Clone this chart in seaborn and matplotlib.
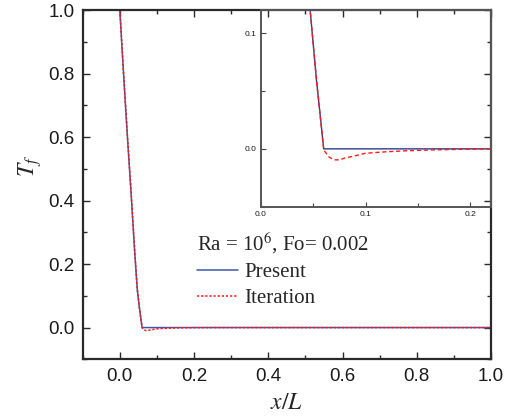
import numpy as np
import pandas as pd
import matplotlib
matplotlib.use("Agg")
import matplotlib.pyplot as plt
import seaborn as sns
from matplotlib.ticker import MultipleLocator

# ---- data ----
x_vals = [0.0, 0.01, 0.02, 0.03, 0.04, 0.047, 0.053, 0.06, 0.065, 0.07, 0.075,
          0.08, 0.09, 0.10, 0.12, 0.14, 0.16, 0.18, 0.20, 0.25, 0.30, 0.40,
          0.50, 0.60, 0.70, 0.80, 0.90, 1.00]
present = [1.0, 0.80, 0.61, 0.43, 0.24, 0.12, 0.06, 0.0, 0.0, 0.0, 0.0,
           0.0, 0.0, 0.0, 0.0, 0.0, 0.0, 0.0, 0.0, 0.0, 0.0, 0.0,
           0.0, 0.0, 0.0, 0.0, 0.0, 0.0]
iteration = [1.0, 0.80, 0.61, 0.43, 0.24, 0.12, 0.06, -0.001, -0.007, -0.0095, -0.0095,
             -0.008, -0.006, -0.0038, -0.0025, -0.0016, -0.001, -0.0006, -0.0003, 0.0, 0.0, 0.0,
             0.0, 0.0, 0.0, 0.0, 0.0, 0.0]
legend_title = "Ra = 10$^{6}$, Fo= 0.002"
series_names = ["Present", "Iteration"]

df = pd.DataFrame({"x": x_vals, "Present": present, "Iteration": iteration})

sns.set_style("ticks")
plt.rcParams["font.family"] = ["Liberation Sans", "DejaVu Sans"]
plt.rcParams["mathtext.fontset"] = "stix"

BLUE = "#3c58ad"
RED = "#ff1a1a"
SPINE = "#2a2a2a"

fig = plt.figure(figsize=(5.15, 4.18), dpi=100)
ax = fig.add_axes([0.1606, 0.1404, 0.7928, 0.8356])

sns.lineplot(data=df, x="x", y="Present", ax=ax, color=BLUE, lw=1.1,
             label=series_names[0])
sns.lineplot(data=df, x="x", y="Iteration", ax=ax, color=RED, lw=1.1,
             linestyle=(0, (1.5, 1.2)), label=series_names[1])

ax.set_xlim(-0.1, 1.0)
ax.set_ylim(-0.1, 1.0)
ax.xaxis.set_major_locator(MultipleLocator(0.2))
ax.xaxis.set_minor_locator(MultipleLocator(0.1))
ax.yaxis.set_major_locator(MultipleLocator(0.2))
ax.yaxis.set_minor_locator(MultipleLocator(0.1))
ax.tick_params(which="both", direction="in", top=True, right=True,
               color=SPINE, width=1.0)
ax.tick_params(which="major", length=5, labelsize=13.5, labelcolor="#1a1a1a", pad=6)
ax.tick_params(which="minor", length=3)
for s in ax.spines.values():
    s.set_linewidth(1.6)
    s.set_color(SPINE)

ax.set_xlabel("$x/L$", fontsize=17)
ax.set_ylabel("$T_f$", fontsize=17)
ax.xaxis.set_label_coords(0.5, -0.095)
ax.yaxis.set_label_coords(-0.095, 0.555)

leg = ax.legend(loc="upper left", bbox_to_anchor=(0.281, 0.367),
                frameon=False, title=legend_title, alignment="left",
                prop={"family": "Liberation Serif", "size": 15},
                title_fontproperties={"family": "Liberation Serif", "size": 15},
                handlelength=1.95, handletextpad=0.3, labelspacing=0.3,
                borderpad=0, borderaxespad=0)

# ---- inset ----
axin = fig.add_axes([0.5068, 0.5055, 0.9534 - 0.5068, 0.976 - 0.5055])
axin.patch.set_alpha(0)
sns.lineplot(data=df, x="x", y="Present", ax=axin, color="#2a3d93", lw=1.0,
             legend=False)
sns.lineplot(data=df, x="x", y="Iteration", ax=axin, color=RED, lw=1.0,
             linestyle=(0, (3, 2)), legend=False)
axin.set_xlim(0.0, 0.22)
axin.set_ylim(-0.05, 0.12)
axin.xaxis.set_major_locator(MultipleLocator(0.1))
axin.xaxis.set_minor_locator(MultipleLocator(0.05))
axin.yaxis.set_major_locator(MultipleLocator(0.1))
axin.yaxis.set_minor_locator(MultipleLocator(0.05))
axin.tick_params(which="both", direction="in", color="#444444", width=0.8)
axin.tick_params(which="major", length=3.5, labelsize=6, labelcolor="#1a1a1a", pad=3)
axin.tick_params(which="minor", length=3)
axin.set_xlabel("")
axin.set_ylabel("")
for s in axin.spines.values():
    s.set_linewidth(1.4)
    s.set_color("#555555")

fig.savefig("out.png", dpi=100)
